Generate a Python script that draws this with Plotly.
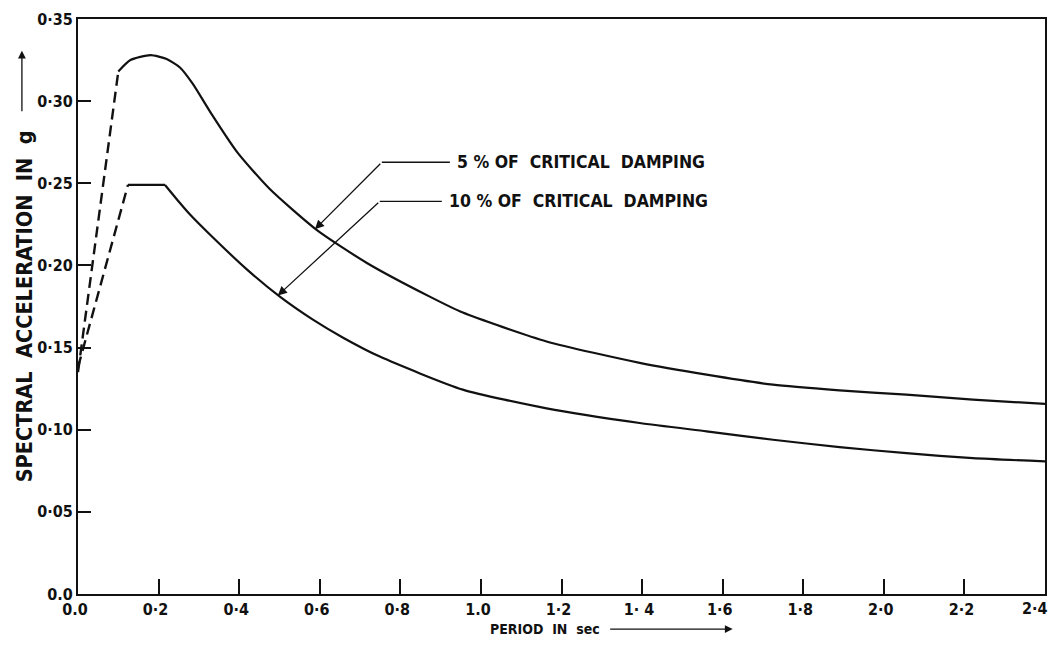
import plotly.graph_objects as go

# ---- data ----
# 5 % of critical damping
x5_dash = [0.0, 0.10]
y5_dash = [0.135, 0.318]
x5 = [0.10, 0.13, 0.18, 0.22, 0.253, 0.285, 0.328, 0.395, 0.476, 0.593, 0.717, 0.873, 0.955, 1.163, 1.394, 1.56, 1.725, 1.89, 2.056, 2.221, 2.40]
y5 = [0.318, 0.325, 0.328, 0.3256, 0.3205, 0.3105, 0.2935, 0.269, 0.2465, 0.2215, 0.2015, 0.181, 0.1713, 0.1537, 0.1407, 0.1335, 0.1274, 0.1240, 0.1213, 0.1183, 0.1157]

# 10 % of critical damping
x10_dash = [0.0, 0.124]
y10_dash = [0.138, 0.249]
x10_flat = [0.124, 0.216]
y10_flat = [0.249, 0.249]
x10 = [0.216, 0.253, 0.278, 0.335, 0.419, 0.501, 0.583, 0.658, 0.749, 0.955, 1.163, 1.394, 1.56, 1.725, 1.89, 2.056, 2.221, 2.40]
y10 = [0.249, 0.238, 0.231, 0.2170, 0.1976, 0.181, 0.167, 0.156, 0.1445, 0.1244, 0.1130, 0.1041, 0.0990, 0.0939, 0.0894, 0.0857, 0.0827, 0.0807]

x_tickvals = [0.0, 0.2, 0.4, 0.6, 0.8, 1.0, 1.2, 1.4, 1.6, 1.8, 2.0, 2.2, 2.4]
x_ticktext = ["0.0", "0·2", "0·4", "0·6", "0·8", "1.0", "1·2", "1· 4", "1·6", "1·8", "2·0", "2·2", "2·4"]
y_tickvals = [0.0, 0.05, 0.10, 0.15, 0.20, 0.25, 0.30, 0.35]
y_ticktext = ["0.0", "0·05", "0·10", "0·15", "0·20", "0·25", "0·30", "0·35"]

labels = ["5 % OF  CRITICAL  DAMPING", "10 % OF  CRITICAL  DAMPING"]
label_text_x = [0.935, 0.915]      # start of label text
label_y = [0.2628, 0.2390]         # level of horizontal leader
leader_corner_x = [0.754, 0.749]   # where leader bends
leader_tip_x = [0.588, 0.496]      # arrow tip on curve
leader_tip_y = [0.222, 0.1817]

FONT = "DejaVu Sans Condensed"
INK = "#111111"
TICKFONT = dict(family=FONT, size=16, color=INK, weight="bold")

fig = go.Figure()
line_style = dict(color=INK, width=2.2)
dash_style = dict(color=INK, width=2.4, dash="11px,6px")

fig.add_trace(go.Scatter(x=x5_dash, y=y5_dash, mode="lines", line=dash_style))
fig.add_trace(go.Scatter(x=x5, y=y5, mode="lines", line_shape="spline",
                         line=dict(color=INK, width=2.2, smoothing=0.6)))
fig.add_trace(go.Scatter(x=x10_dash, y=y10_dash, mode="lines", line=dash_style))
fig.add_trace(go.Scatter(x=x10_flat, y=y10_flat, mode="lines", line=line_style))
fig.add_trace(go.Scatter(x=x10, y=y10, mode="lines", line_shape="spline",
                         line=dict(color=INK, width=2.2, smoothing=0.6)))

# leader lines with arrows and their labels
for i in range(2):
    fig.add_trace(go.Scatter(x=[leader_corner_x[i], label_text_x[i] - 0.012],
                             y=[label_y[i], label_y[i]], mode="lines",
                             line=dict(color=INK, width=1.3)))
    fig.add_annotation(x=leader_tip_x[i], y=leader_tip_y[i], xref="x", yref="y",
                       ax=leader_corner_x[i], ay=label_y[i], axref="x", ayref="y",
                       showarrow=True, arrowhead=2, arrowsize=1.4, arrowwidth=1.3,
                       arrowcolor=INK, text="")
    fig.add_annotation(x=label_text_x[i], y=label_y[i], xref="x", yref="y",
                       text=labels[i], showarrow=False, xanchor="left", yanchor="middle",
                       font=dict(family=FONT, size=17.5, color=INK, weight="bold"))

# axis titles (with arrows, as in the original)
fig.add_annotation(x=-0.055, y=0.500, xref="paper", yref="paper",
                   text="SPECTRAL  ACCELERATION  IN  g", textangle=-90, showarrow=False,
                   xanchor="center", yanchor="middle",
                   font=dict(family=FONT, size=21.5, color=INK, weight="bold"))
fig.add_annotation(x=-0.058, y=0.945, xref="paper", yref="paper",
                   ax=0, ay=62, axref="pixel", ayref="pixel",
                   showarrow=True, arrowhead=2, arrowsize=1.2, arrowwidth=1.3,
                   arrowcolor=INK, text="")
fig.add_annotation(x=0.542, y=-0.061, xref="paper", yref="paper",
                   text="PERIOD  IN  sec", showarrow=False, xanchor="right", yanchor="middle",
                   font=dict(family=FONT, size=14, color=INK, weight="bold"))
fig.add_annotation(x=0.677, y=-0.061, xref="paper", yref="paper",
                   ax=-124, ay=0, axref="pixel", ayref="pixel",
                   showarrow=True, arrowhead=2, arrowsize=1.2, arrowwidth=1.3,
                   arrowcolor=INK, text="")

# the last x tick label sits at the very right edge; draw it right-aligned so it is not clipped
fig.add_annotation(x=x_tickvals[-1], y=0, xref="x", yref="paper",
                   text=x_ticktext[-1], showarrow=False, xanchor="right", yanchor="top",
                   xshift=5, yshift=-3, font=TICKFONT)
x_ticktext_axis = x_ticktext[:-1] + [""]

axis_common = dict(showline=True, linecolor=INK, linewidth=2.2, mirror=True,
                   showgrid=False, zeroline=False, ticks="inside", tickcolor=INK,
                   tickwidth=1.5, automargin=False, tickfont=TICKFONT)

fig.update_xaxes(range=[0, 2.4], tickvals=x_tickvals, ticktext=x_ticktext_axis, ticklen=15,
                 ticklabelshift=-3, **axis_common)
fig.update_yaxes(range=[0, 0.35], tickvals=y_tickvals, ticktext=y_ticktext, ticklen=13, **axis_common)

# the page body adds an 8px offset; size/margins compensate so the plot area lands where the reference has it
fig.update_layout(width=1042, height=629, showlegend=False,
                  margin=dict(l=70, r=5, t=11, b=43),
                  paper_bgcolor="white", plot_bgcolor="white")

fig.write_html("out.html")
